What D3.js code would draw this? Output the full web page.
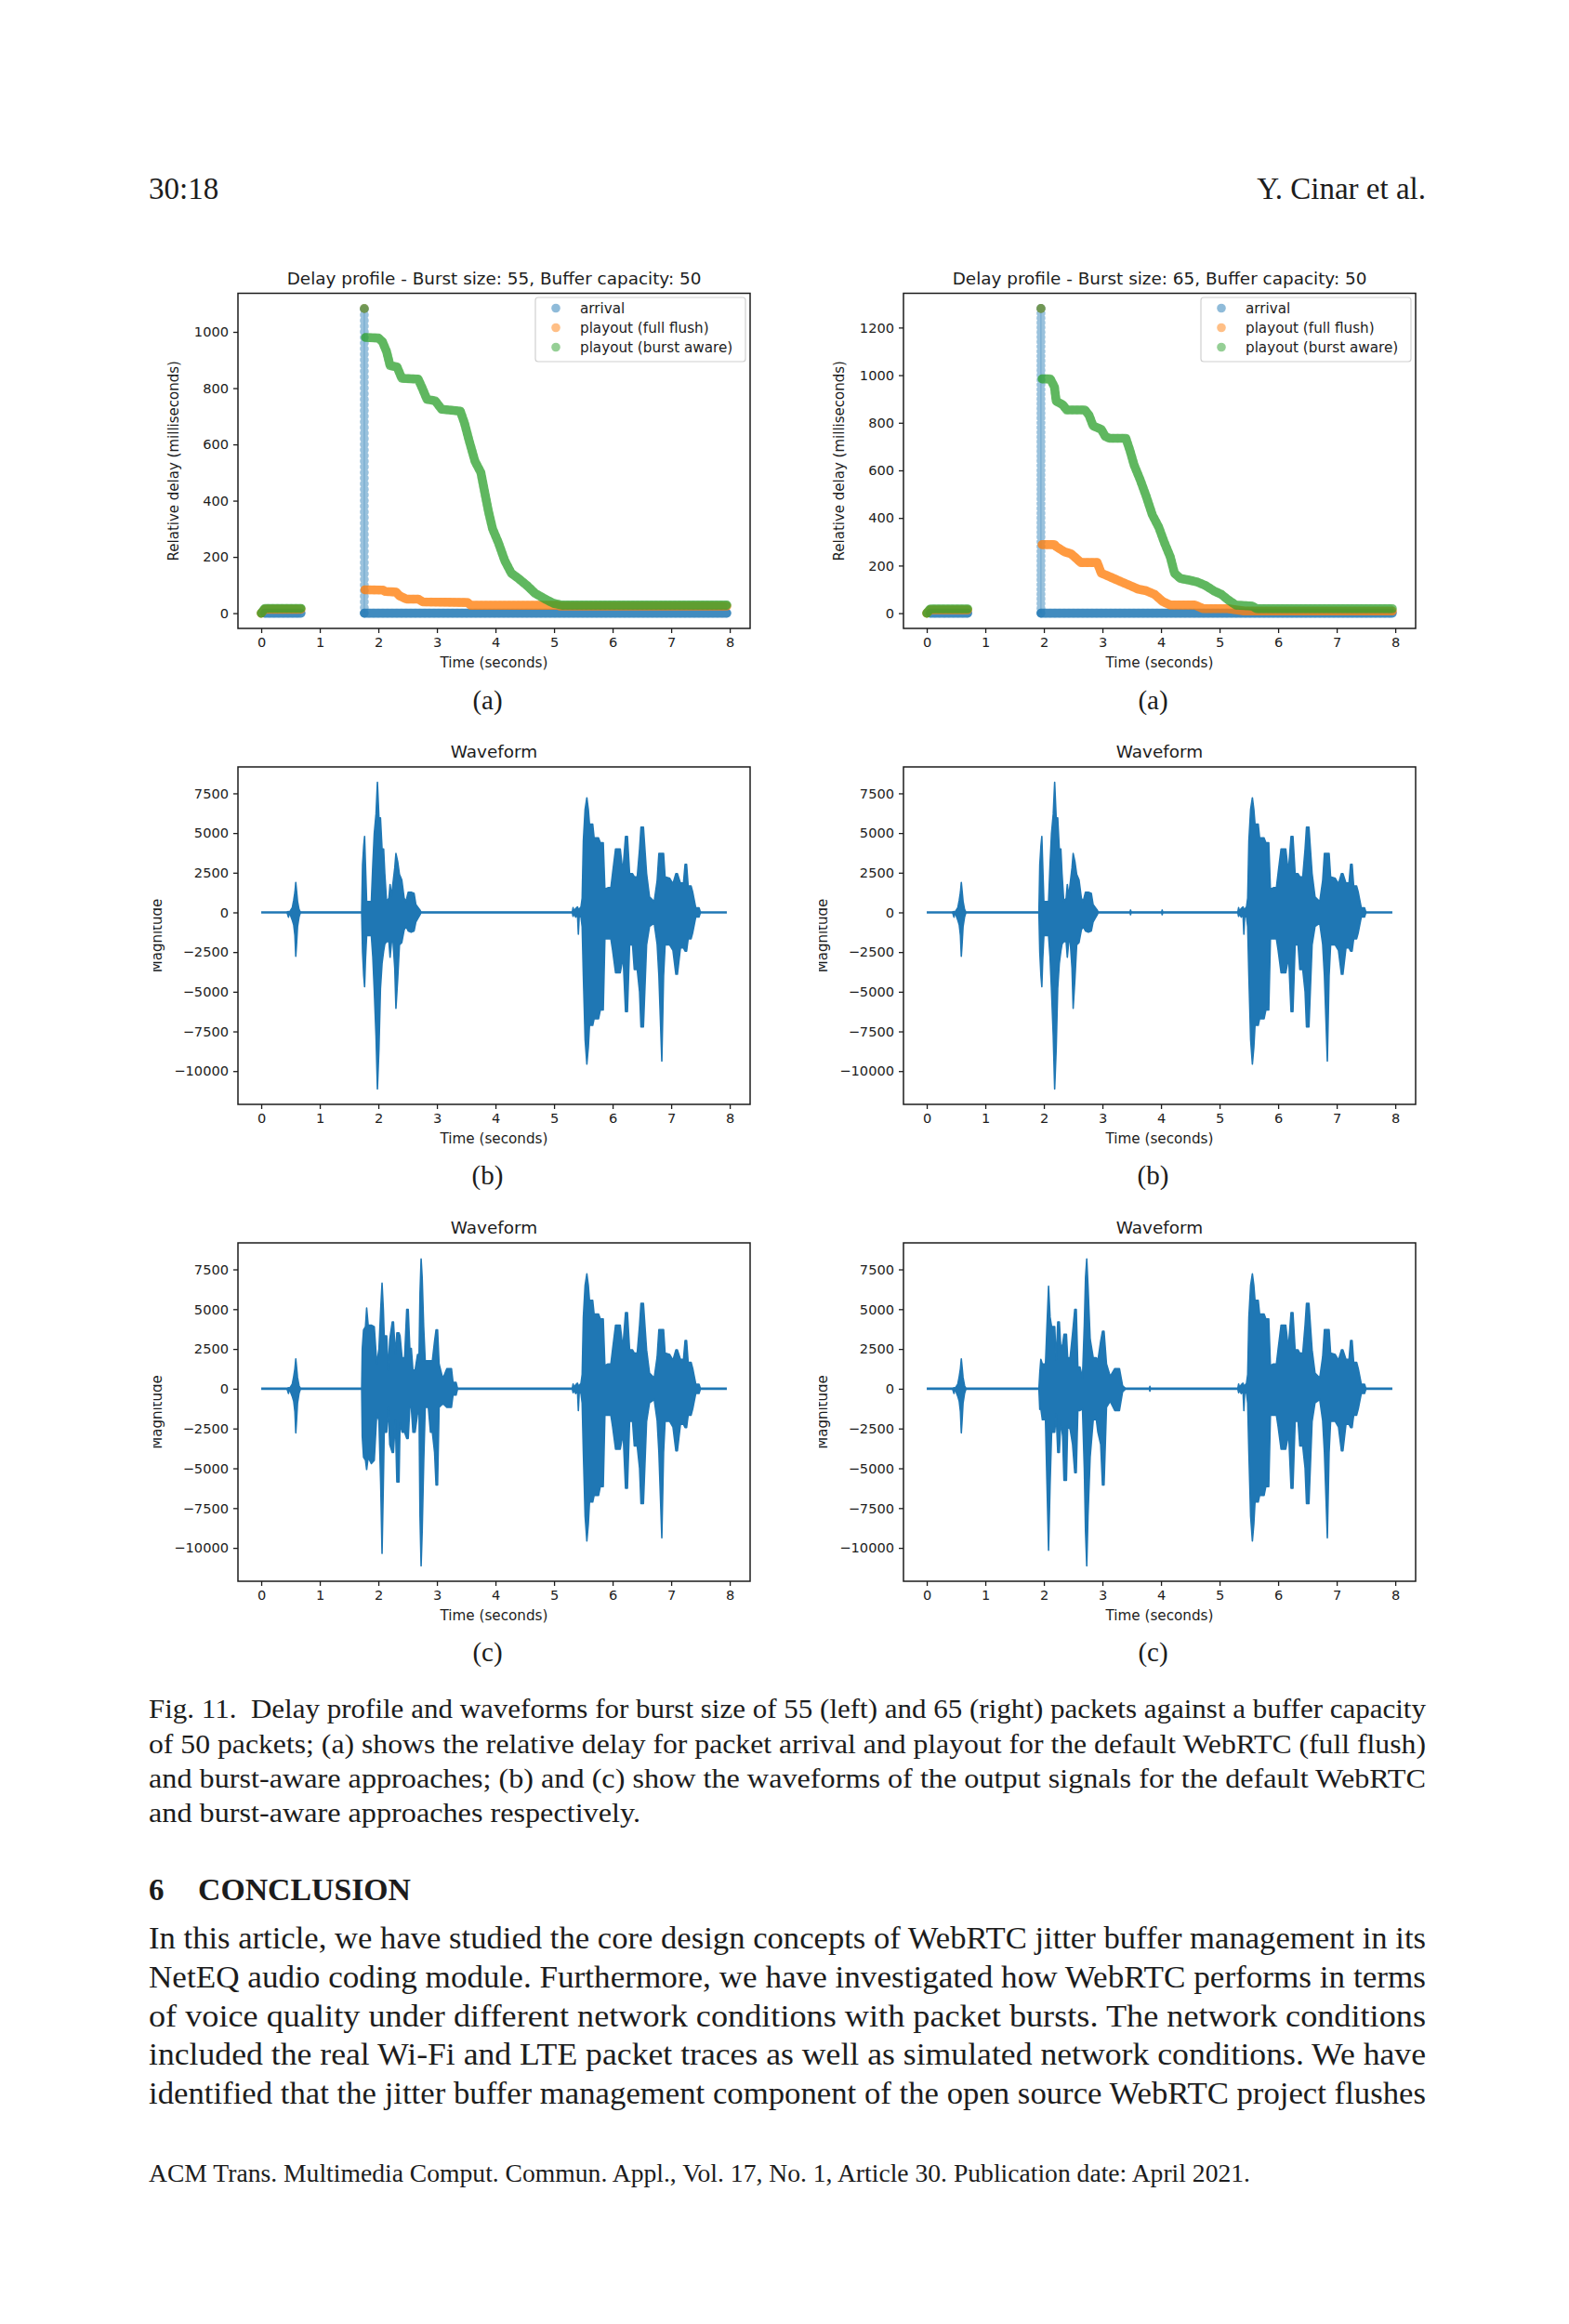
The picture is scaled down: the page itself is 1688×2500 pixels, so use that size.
<!DOCTYPE html>
<html>
<head>
<meta charset="utf-8">
<script src="https://cdn.jsdelivr.net/npm/d3@7"></script>
<style>
  body { margin: 0; background: #fff; }
  text { white-space: pre; }
</style>
</head>
<body>
<svg id="page" width="1688" height="2500"></svg>
<script>
// ---------- tick values ----------
const xTicks = [0, 1, 2, 3, 4, 5, 6, 7, 8];
const delayTicks55 = [0, 200, 400, 600, 800, 1000];
const delayTicks65 = [0, 200, 400, 600, 800, 1000, 1200];
const waveTicks = [-10000, -7500, -5000, -2500, 0, 2500, 5000, 7500];

// ---------- delay profile, burst 55 (time s, delay ms); null = gap ----------
const arrivalRun55 = [[0.06, 0], [0.68, 0], null, [1.76, 0], [7.95, 0]];
const arrivalColumn55 = [[1.76, 0], [1.76, 1083]];
const burstPeak55 = [1.76, 1083];
const fullFlush55 = [[0, 0], [0.06, 14], [0.68, 14], null,
  [1.77, 83], [2.08, 82], [2.12, 77], [2.3, 75], [2.36, 62], [2.48, 50], [2.68, 50],
  [2.76, 40], [3.52, 38], [3.58, 28], [5.06, 28], [5.1, 25], [7.95, 25]];
const burstAware55 = [[0, 0], [0.06, 17], [0.68, 17], null,
  [1.78, 980], [2.0, 978], [2.07, 965], [2.14, 930], [2.2, 880], [2.32, 875], [2.4, 835],
  [2.68, 832], [2.76, 795], [2.83, 760], [2.97, 755], [3.08, 725], [3.4, 718], [3.47, 676],
  [3.55, 613], [3.65, 540], [3.75, 500], [3.82, 425], [3.88, 362], [3.95, 300], [4.05, 250],
  [4.16, 186], [4.27, 142], [4.4, 122], [4.54, 98], [4.68, 70], [4.85, 50], [4.99, 35],
  [5.13, 29], [7.95, 29]];

// ---------- delay profile, burst 65 ----------
const arrivalRun65 = [[0.06, 0], [0.7, 0], null, [1.95, 0], [7.95, 0]];
const arrivalColumn65 = [[1.95, 0], [1.95, 1280]];
const burstPeak65 = [1.95, 1280];
const fullFlush65 = [[0, 0], [0.06, 14], [0.7, 14], null,
  [1.97, 288], [2.18, 288], [2.21, 280], [2.35, 258], [2.46, 250], [2.53, 235], [2.63, 213],
  [2.91, 213], [2.98, 168], [3.05, 161], [3.19, 146], [3.33, 131], [3.47, 116], [3.61, 101],
  [3.75, 94], [3.89, 79], [4.03, 49], [4.16, 34], [4.58, 34], [4.72, 19], [5.14, 19],
  [5.42, 9], [7.95, 9]];
const burstAware65 = [[0, 0], [0.06, 18], [0.7, 18], null,
  [1.97, 984], [2.11, 984], [2.18, 951], [2.21, 891], [2.32, 876], [2.39, 854], [2.7, 854],
  [2.77, 832], [2.84, 787], [2.98, 772], [3.05, 742], [3.12, 735], [3.4, 735], [3.47, 683],
  [3.54, 623], [3.64, 563], [3.75, 489], [3.85, 414], [3.96, 362], [4.06, 295], [4.16, 235],
  [4.23, 168], [4.33, 146], [4.48, 139], [4.62, 131], [4.76, 116], [4.9, 94], [5.03, 79],
  [5.14, 57], [5.28, 34], [5.56, 30], [5.63, 19], [7.95, 19]];

// ---------- waveform envelopes: [time s, min, max] ----------
const signalSpan = [[0, 0], [7.95, 0]];
const blip = [[0.44, 0, 0], [0.465, -300, 60], [0.48, 0, 0], [0.53, -480, 290],
  [0.555, -800, 780], [0.575, -1450, 1260], [0.59, -2770, 1880], [0.605, -1900, 1300],
  [0.62, -900, 700], [0.645, -300, 200], [0.67, 0, 0]];
const burstLeftB = [[1.715, 0, 0], [1.73, -2500, 3000], [1.75, -4000, 4200], [1.765, -4685, 4780],
  [1.78, -3000, 3000], [1.80, -1460, 680], [1.88, -1460, 700], [1.905, -2800, 3000],
  [1.93, -4900, 4980], [1.96, -7800, 6200], [1.984, -11130, 8200], [2.01, -8600, 5950],
  [2.036, -4780, 5950], [2.063, -3220, 4000], [2.09, -2440, 4000], [2.11, -2000, 2440],
  [2.14, -1850, 680], [2.18, -1850, 900], [2.20, -2830, 1760], [2.225, -1850, 1000],
  [2.25, -1850, 1850], [2.28, -3500, 2800], [2.30, -6050, 3710], [2.33, -4200, 3200],
  [2.36, -2050, 2400], [2.40, -1900, 2050], [2.44, -1100, 900], [2.47, -880, 680],
  [2.51, -1170, 1270], [2.56, -1250, 1270], [2.61, -1170, 1200], [2.64, -600, 500],
  [2.68, -350, 300], [2.71, -150, 150], [2.73, 0, 0]];
const burstRightB = [[1.915, 0, 0], [1.93, -2500, 3000], [1.95, -4000, 4200], [1.965, -4685, 4780],
  [1.98, -3000, 3000], [2.00, -1460, 680], [2.08, -1460, 700], [2.105, -2800, 3000],
  [2.13, -4900, 4980], [2.16, -7800, 6200], [2.184, -11130, 8200], [2.21, -8600, 5950],
  [2.236, -4780, 5950], [2.263, -3220, 4000], [2.29, -2440, 4000], [2.31, -2000, 2440],
  [2.34, -1850, 680], [2.38, -1850, 900], [2.40, -2830, 1760], [2.425, -1850, 1000],
  [2.45, -1850, 1850], [2.48, -3500, 2800], [2.50, -6050, 3710], [2.53, -4200, 3200],
  [2.56, -2050, 2400], [2.60, -1900, 2050], [2.64, -1100, 900], [2.67, -880, 680],
  [2.71, -1170, 1270], [2.76, -1250, 1270], [2.81, -1170, 1200], [2.84, -600, 500],
  [2.88, -350, 300], [2.91, -150, 150], [2.93, 0, 0],
  [3.47, 0, 0], [3.48, -150, 150], [3.49, 0, 0], [4.01, 0, 0], [4.02, -150, 150], [4.03, 0, 0]];
const burstLeftC = [[1.715, 0, 0], [1.725, -3000, 2500], [1.747, -4300, 3700], [1.78, -4500, 3900],
  [1.80, -5075, 5075], [1.826, -4300, 4000], [1.88, -4700, 4000], [1.93, -4500, 3900],
  [1.973, -1560, 1560], [2.01, -2000, 2500], [2.04, -6000, 5000], [2.063, -10350, 6640],
  [2.085, -6000, 5000], [2.10, -2730, 3320], [2.142, -2730, 3320], [2.168, -1170, 1170],
  [2.195, -3510, 3120], [2.237, -4000, 4200], [2.258, -4000, 4200], [2.29, -1950, 2150],
  [2.316, -5860, 3510], [2.353, -5860, 3510], [2.37, -2150, 3320], [2.405, -2730, 1950],
  [2.448, -2730, 1950], [2.484, -3120, 4980], [2.51, -3120, 4980], [2.537, -1170, 2540],
  [2.563, -1170, 2540], [2.59, -2730, 1170], [2.627, -2730, 1170], [2.669, -1560, 2150],
  [2.695, -1560, 2150], [2.711, -8000, 6000], [2.73, -11130, 8160], [2.748, -9000, 7000],
  [2.774, -4680, 3900], [2.80, -1170, 1760], [2.853, -1170, 1760], [2.89, -2730, 1760],
  [2.922, -2730, 1760], [2.96, -4000, 3000], [2.985, -6050, 3700], [3.011, -6050, 3700],
  [3.037, -1170, 1560], [3.09, -980, 780], [3.117, -980, 780], [3.169, -1170, 1270],
  [3.248, -1170, 1270], [3.275, -400, 400], [3.327, -400, 400], [3.353, 0, 0]];
const burstRightC = [[1.915, 0, 0], [1.93, -1300, 1000], [1.948, -1260, 1850], [1.974, -1950, 1560],
  [2.027, -1950, 1560], [2.053, -6000, 4000], [2.08, -10150, 6440], [2.106, -6000, 4500],
  [2.132, -2730, 3900], [2.185, -2730, 3900], [2.21, -1600, 1800], [2.237, -4000, 4200],
  [2.264, -4000, 4200], [2.29, -1950, 2540], [2.32, -3000, 2800], [2.343, -5760, 3420],
  [2.385, -5760, 3420], [2.406, -2340, 1950], [2.448, -2540, 1950], [2.49, -3500, 3500],
  [2.527, -5270, 4980], [2.553, -5270, 4980], [2.58, -1370, 1370], [2.616, -1370, 1370],
  [2.659, -1270, 680], [2.69, -5000, 4000], [2.711, -9000, 7000], [2.732, -11130, 8160],
  [2.753, -8000, 6500], [2.79, -4300, 3120], [2.843, -1950, 1950], [2.896, -1950, 1950],
  [2.922, -2730, 1760], [2.97, -3500, 3000], [3.0, -6050, 3610], [3.027, -6050, 3610],
  [3.069, -1170, 1560], [3.132, -780, 780], [3.211, -1370, 1270], [3.29, -1370, 1270],
  [3.343, -200, 200], [3.395, 0, 0], [3.80, 0, 0], [3.81, -150, 150], [3.82, 0, 0]];
const speech2 = [[5.31, 0, 0], [5.325, -250, 300], [5.34, -80, 80], [5.37, -300, 250],
  [5.40, -150, 350], [5.415, -1370, 200], [5.43, -200, 200], [5.46, -300, 350],
  [5.48, -900, 900], [5.50, -4000, 4500], [5.53, -8000, 6500],
  [5.56, -9560, 7220], [5.585, -8500, 6500], [5.605, -7120, 5560], [5.66, -7120, 5560],
  [5.684, -6700, 4690], [5.76, -6700, 4690], [5.79, -6150, 4390], [5.84, -6150, 4390],
  [5.868, -1660, 1460], [5.92, -1660, 1560], [5.97, -1660, 1560], [6.0, -2400, 2500],
  [6.05, -3800, 4000], [6.13, -3800, 4000], [6.16, -3200, 3000], [6.184, -3200, 3030],
  [6.22, -6250, 4780], [6.253, -6250, 4780], [6.29, -2050, 2440], [6.34, -2050, 2440],
  [6.37, -3600, 2240], [6.42, -3600, 2240], [6.46, -5000, 4000], [6.484, -7220, 5370],
  [6.526, -7220, 5370], [6.58, -2050, 2440], [6.63, -880, 980], [6.71, -680, 680],
  [6.76, -2000, 2000], [6.79, -4000, 3710], [6.84, -9370, 3710], [6.87, -4000, 3710],
  [6.896, -2050, 2240], [6.975, -2050, 2150], [7.03, -2400, 1800], [7.08, -3900, 2440],
  [7.106, -3900, 2440], [7.158, -2240, 1850], [7.21, -2240, 1850], [7.237, -2440, 3030],
  [7.263, -2440, 3030], [7.29, -1660, 1660], [7.34, -1660, 1660], [7.368, -1270, 1270],
  [7.42, -290, 290], [7.475, -290, 290], [7.50, 0, 0]];

// ---------- page text ----------
const captionLines = [
  "Fig. 11.  Delay profile and waveforms for burst size of 55 (left) and 65 (right) packets against a buffer capacity",
  "of 50 packets; (a) shows the relative delay for packet arrival and playout for the default WebRTC (full flush)",
  "and burst-aware approaches; (b) and (c) show the waveforms of the output signals for the default WebRTC",
  "and burst-aware approaches respectively."
];
const bodyLines = [
  "In this article, we have studied the core design concepts of WebRTC jitter buffer management in its",
  "NetEQ audio coding module. Furthermore, we have investigated how WebRTC performs in terms",
  "of voice quality under different network conditions with packet bursts. The network conditions",
  "included the real Wi-Fi and LTE packet traces as well as simulated network conditions. We have",
  "identified that the jitter buffer management component of the open source WebRTC project flushes"
];
const footerText = "ACM Trans. Multimedia Comput. Commun. Appl., Vol. 17, No. 1, Article 30. Publication date: April 2021.";

const C = { blue: "#1f77b4", orange: "#ff7f0e", green: "#2ca02c", ink: "#1c1c1c" };
const SERIF = "'Liberation Serif', 'DejaVu Serif', serif";
const SANS = "'DejaVu Sans', sans-serif";

const svg = d3.select("#page");
const defs = svg.append("defs");

// ---------- page text helper ----------
function pageText(str, x, y, size, width, extra) {
  const t = svg.append("text").attr("x", x).attr("y", y)
    .attr("font-family", SERIF).attr("font-size", size).attr("fill", C.ink).text(str);
  if (width) t.attr("textLength", width).attr("lengthAdjust", "spacingAndGlyphs");
  if (extra) extra(t);
  return t;
}

pageText("30:18", 160, 214, 33);
pageText("Y. Cinar et al.", 1534, 214, 33, null, t => t.attr("text-anchor", "end"));

// ---------- panel frames ----------
const cols = [{ left: 256, right: 807, clipX: 165 }, { left: 972, right: 1523, clipX: 881 }];
const rows = [{ top: 315.5, bottom: 676 }, { top: 825, bottom: 1188 }, { top: 1337, bottom: 1701 }];

function styleAxis(g) {
  g.attr("font-family", SANS).attr("font-size", 14.6);
  g.select(".domain").remove();
  g.selectAll(".tick line").attr("stroke", C.ink).attr("stroke-width", 1.3);
  g.selectAll(".tick text").attr("fill", C.ink);
}

function axesFrame(g, x, y, box, yTicks, yLabel, title, sub, clipX) {
  g.append("g").attr("transform", `translate(0,${box.bottom})`)
    .call(d3.axisBottom(x).tickValues(xTicks).tickSize(5).tickPadding(5).tickFormat(d3.format("d")))
    .call(styleAxis);
  g.append("g").attr("transform", `translate(${box.left},0)`)
    .call(d3.axisLeft(y).tickValues(yTicks).tickSize(5).tickPadding(5).tickFormat(d3.format("d")))
    .call(styleAxis);
  g.append("rect").attr("x", box.left).attr("y", box.top)
    .attr("width", box.right - box.left).attr("height", box.bottom - box.top)
    .attr("fill", "none").attr("stroke", C.ink).attr("stroke-width", 1.5);

  const cx = (box.left + box.right) / 2;
  g.append("text").attr("x", cx).attr("y", box.top - 10).attr("text-anchor", "middle")
    .attr("font-family", SANS).attr("font-size", 18.4).attr("fill", C.ink).text(title);
  g.append("text").attr("x", cx).attr("y", box.bottom + 42).attr("text-anchor", "middle")
    .attr("font-family", SANS).attr("font-size", 15.2).attr("fill", C.ink).text("Time (seconds)");

  // y label; the waveform figures were cropped through it, so clip at the crop edge
  const ly = (box.top + box.bottom) / 2;
  const holder = g.append("g");
  if (clipX) {
    const id = "clip" + Math.round(clipX) + "_" + Math.round(box.top);
    defs.append("clipPath").attr("id", id).append("rect")
      .attr("x", clipX).attr("y", box.top).attr("width", 200).attr("height", box.bottom - box.top);
    holder.attr("clip-path", `url(#${id})`);
  }
  holder.append("text")
    .attr("transform", `translate(${box.left + yLabel.dx},${ly}) rotate(-90)`)
    .attr("text-anchor", "middle").attr("font-family", SANS).attr("font-size", 15)
    .attr("fill", C.ink).text(yLabel.text);

  g.append("text").attr("x", cx - 7).attr("y", box.bottom + sub.dy).attr("text-anchor", "middle")
    .attr("font-family", SERIF).attr("font-size", 29).attr("fill", C.ink).text(sub.text);
}

function plotClip(box) {
  const id = "area" + Math.round(box.left) + "_" + Math.round(box.top);
  defs.append("clipPath").attr("id", id).append("rect")
    .attr("x", box.left).attr("y", box.top)
    .attr("width", box.right - box.left).attr("height", box.bottom - box.top);
  return `url(#${id})`;
}

// ---------- delay profile panel ----------
function delayPanel(col, p) {
  const box = Object.assign({}, cols[col], rows[0]);
  const x = d3.scaleLinear().domain([-0.3975, 8.3475]).range([box.left, box.right]);
  const y = d3.scaleLinear().domain(p.yDomain).range([box.bottom, box.top]);
  const g = svg.append("g");
  const plot = g.append("g").attr("clip-path", plotClip(box));
  const line = d3.line().defined(d => d !== null).x(d => x(d[0])).y(d => y(d[1]));
  const r = 4.8;

  function band(data, color, op) {
    plot.append("path").attr("d", line(data)).attr("fill", "none").attr("stroke", color)
      .attr("stroke-width", 2 * r).attr("stroke-linecap", "round").attr("stroke-linejoin", "round")
      .attr("stroke-opacity", op);
    // marker texture along the band
    plot.append("path").attr("d", line(data)).attr("fill", "none").attr("stroke", color)
      .attr("stroke-width", 2 * r).attr("stroke-linecap", "round")
      .attr("stroke-dasharray", "0 5").attr("stroke-opacity", 0.25);
  }
  // burst arrival column drawn as a chain of half-transparent markers
  const step = Math.abs(y(20) - y(0));
  plot.append("path").attr("d", line(p.column)).attr("fill", "none").attr("stroke", C.blue)
    .attr("stroke-width", 2 * r).attr("stroke-linecap", "round")
    .attr("stroke-dasharray", `0 ${step}`).attr("stroke-opacity", 0.45);
  plot.append("path").attr("d", line(p.column)).attr("fill", "none").attr("stroke", C.blue)
    .attr("stroke-width", 1).attr("stroke-opacity", 0.35);
  band(p.arrival, C.blue, 0.8);
  band(p.fullFlush, C.orange, 0.72);
  band(p.burstAware, C.green, 0.68);
  [C.blue, C.orange, C.green].forEach(c => {
    plot.append("circle").attr("cx", x(p.peak[0])).attr("cy", y(p.peak[1])).attr("r", r)
      .attr("fill", c).attr("fill-opacity", 0.45);
  });

  axesFrame(g, x, y, box, p.yTicks, { text: "Relative delay (milliseconds)", dx: -64 },
    p.title, { text: "(a)", dy: 87 }, null);

  // legend
  const lw = 226, lh = 69, lx = box.right - 5 - lw, ly = box.top + 4.5;
  const lg = g.append("g");
  lg.append("rect").attr("x", lx).attr("y", ly).attr("width", lw).attr("height", lh).attr("rx", 3)
    .attr("fill", "#fff").attr("fill-opacity", 0.8).attr("stroke", "#d0d0d0").attr("stroke-width", 1.2);
  const items = [["arrival", C.blue], ["playout (full flush)", C.orange], ["playout (burst aware)", C.green]];
  items.forEach((it, i) => {
    const cy = ly + 11.5 + i * 21;
    lg.append("circle").attr("cx", lx + 22).attr("cy", cy).attr("r", r).attr("fill", it[1]).attr("fill-opacity", 0.5);
    lg.append("text").attr("x", lx + 48).attr("y", cy + 5.3).attr("font-family", SANS)
      .attr("font-size", 15.2).attr("fill", C.ink).text(it[0]);
  });
}

// ---------- waveform panel ----------
function wavePanel(col, row, env, sub) {
  const box = Object.assign({}, cols[col], rows[row]);
  const x = d3.scaleLinear().domain([-0.3975, 8.3475]).range([box.left, box.right]);
  const y = d3.scaleLinear().domain([-12096, 9166]).range([box.bottom, box.top]);
  const g = svg.append("g");
  const plot = g.append("g").attr("clip-path", plotClip(box));
  plot.append("path").attr("d", d3.line().x(d => x(d[0])).y(d => y(d[1]))(signalSpan))
    .attr("fill", "none").attr("stroke", C.blue).attr("stroke-width", 2.6);
  const area = d3.area().x(d => x(d[0])).y0(d => y(d[1])).y1(d => y(d[2]));
  plot.append("path").attr("d", area(env)).attr("fill", C.blue)
    .attr("stroke", C.blue).attr("stroke-width", 1.6).attr("stroke-linejoin", "round");
  axesFrame(g, x, y, box, waveTicks, { text: "Magnitude", dx: -82 },
    "Waveform", { text: sub, dy: 86 }, cols[col].clipX);
}

delayPanel(0, { yDomain: [-54.15, 1137.15], yTicks: delayTicks55, column: arrivalColumn55,
  arrival: arrivalRun55, fullFlush: fullFlush55, burstAware: burstAware55, peak: burstPeak55,
  title: "Delay profile - Burst size: 55, Buffer capacity: 50" });
delayPanel(1, { yDomain: [-64, 1344], yTicks: delayTicks65, column: arrivalColumn65,
  arrival: arrivalRun65, fullFlush: fullFlush65, burstAware: burstAware65, peak: burstPeak65,
  title: "Delay profile - Burst size: 65, Buffer capacity: 50" });

wavePanel(0, 1, [...blip, ...burstLeftB, ...speech2], "(b)");
wavePanel(1, 1, [...blip, ...burstRightB, ...speech2], "(b)");
wavePanel(0, 2, [...blip, ...burstLeftC, ...speech2], "(c)");
wavePanel(1, 2, [...blip, ...burstRightC, ...speech2], "(c)");

// ---------- caption, section and footer ----------
const capY = [1848, 1886, 1923, 1960];
captionLines.forEach((s, i) => pageText(s, 160, capY[i], 30, i < 3 ? 1374 : 529));

pageText("6", 160, 2044, 33, null, t => t.attr("font-weight", "bold"));
pageText("CONCLUSION", 213, 2044, 33, 229, t => t.attr("font-weight", "bold"));

const bodyY = [2096, 2138, 2180, 2221, 2263];
bodyLines.forEach((s, i) => pageText(s, 160, bodyY[i], 34, 1374));

pageText(footerText, 160, 2347, 27, 1185);
</script>
</body>
</html>
